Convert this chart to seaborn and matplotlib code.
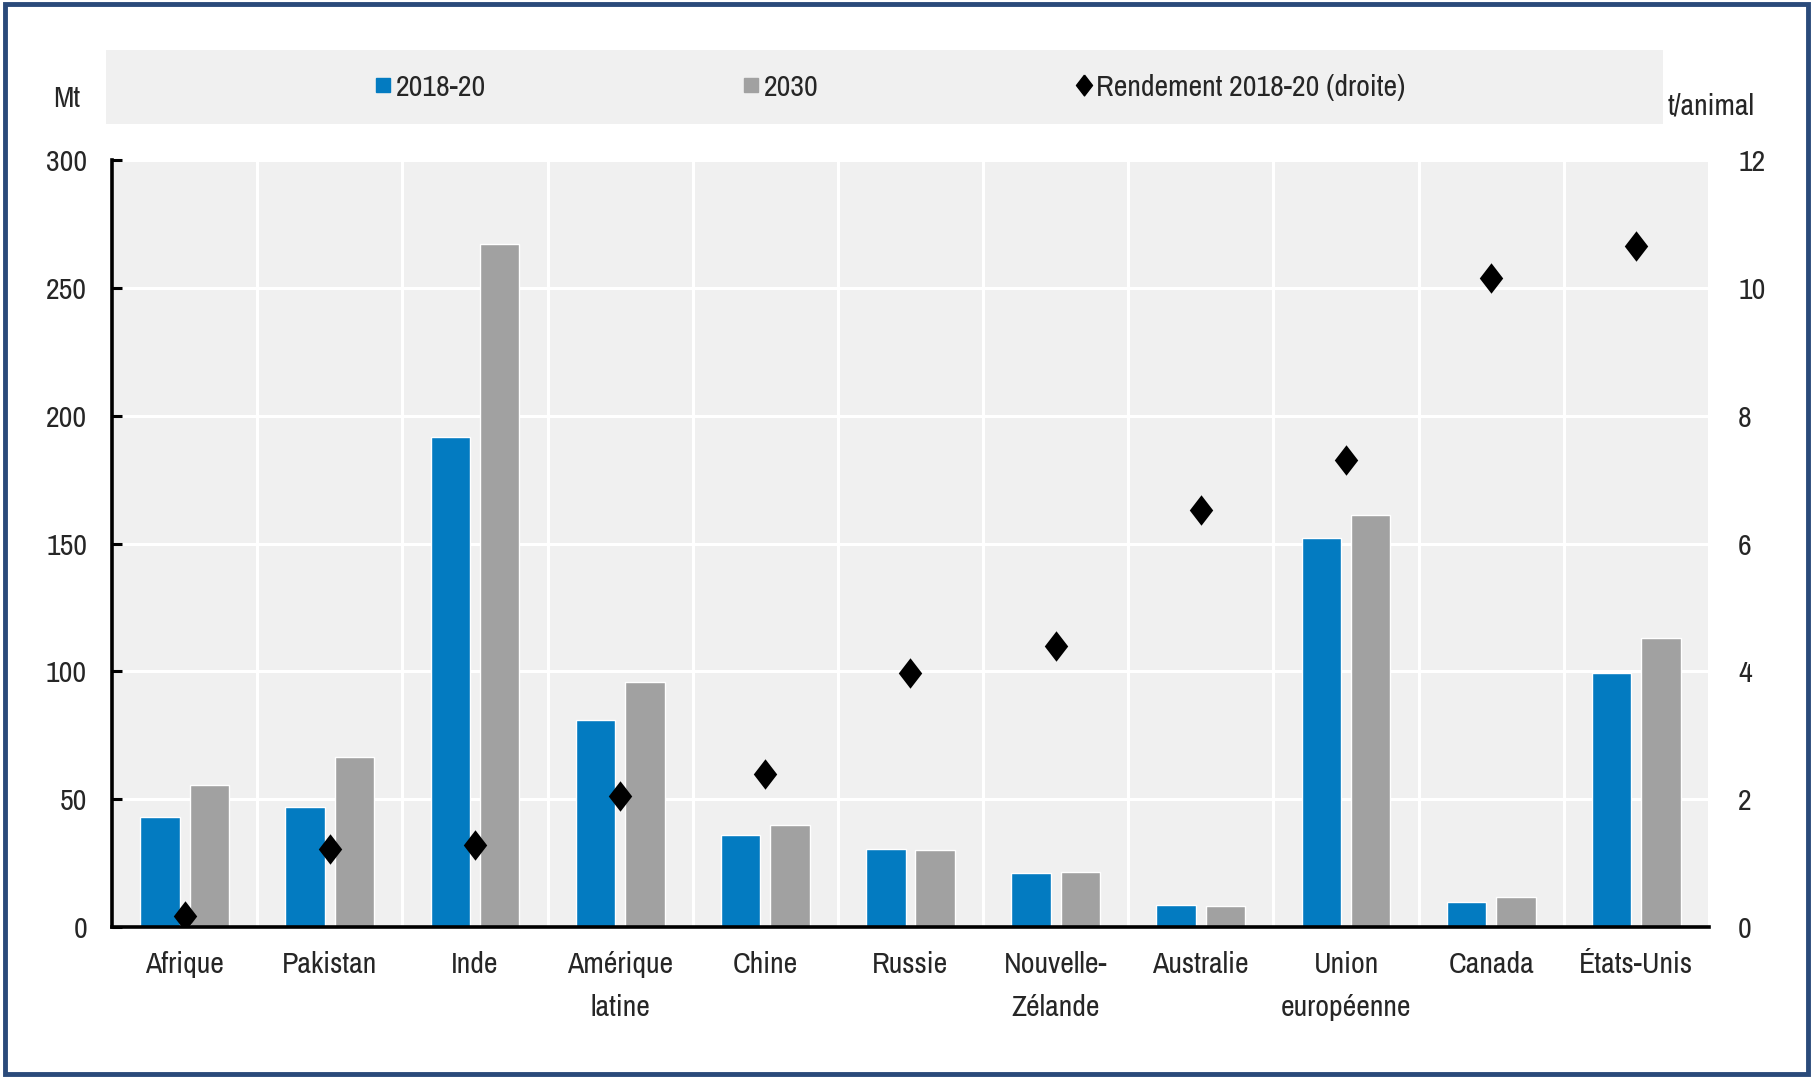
import pandas as pd
import numpy as np
import matplotlib
matplotlib.use("Agg")
import matplotlib.pyplot as plt
from matplotlib.patches import Rectangle
from matplotlib.lines import Line2D
import seaborn as sns

# Données
regions = ["Afrique", "Pakistan", "Inde", "Amérique\nlatine", "Chine", "Russie",
           "Nouvelle-\nZélande", "Australie", "Union\neuropéenne", "Canada", "États-Unis"]
prod_2018_20 = [43, 47, 191.5, 81, 36, 30.5, 21, 8.6, 152, 10, 99.5]
prod_2030 = [55.5, 66.5, 267, 96, 40, 30.3, 21.6, 8.4, 161, 11.7, 113]
rendement = [0.18, 1.22, 1.29, 2.05, 2.4, 3.98, 4.4, 6.52, 7.3, 10.15, 10.66]

series_names = ["2018-20", "2030"]
left_ticks = [0, 50, 100, 150, 200, 250, 300]
right_ticks = [0, 2, 4, 6, 8, 10, 12]

BLUE = "#037bc1"
GREY = "#a1a1a1"
PANEL = "#f0f0f0"
FS = 21.5

sns.set_style("white")
# police étroite proche de l'Arial Narrow
plt.rcParams["font.family"] = ["Liberation Sans Narrow", "Archivo Narrow", "DejaVu Sans"]

df = pd.DataFrame({
    "region": regions * 2,
    "serie": [series_names[0]] * len(regions) + [series_names[1]] * len(regions),
    "valeur": prod_2018_20 + prod_2030,
})
df_rend = pd.DataFrame({"region": regions, "rendement": rendement})

fig = plt.figure(figsize=(18.13, 10.78), dpi=100)
ax = fig.add_axes([0.0618, 0.140, 0.8808, 0.7116])
ax.set_facecolor(PANEL)

sns.barplot(data=df, x="region", y="valeur", hue="serie", palette=[BLUE, GREY],
            width=0.68, gap=0.2, saturation=1, legend=False, ax=ax, zorder=3)

ax.set_xlim(-0.5, len(regions) - 0.5)
ax.set_ylim(0, 300)
ax.set_yticks(left_ticks)
ax.set_xlabel("")
ax.set_ylabel("")
for lab in ax.get_xticklabels():
    lab.set_linespacing(1.75)

# grille blanche
ax.set_xticks(np.arange(len(regions) + 1) - 0.5, minor=True)
ax.grid(True, axis="y", which="major", color="white", linewidth=2.2, zorder=1)
ax.grid(True, axis="x", which="minor", color="white", linewidth=2.2, zorder=1)
ax.set_axisbelow(True)

for s in ["top", "right"]:
    ax.spines[s].set_visible(False)
for s in ["left", "bottom"]:
    ax.spines[s].set_color("black")
    ax.spines[s].set_linewidth(2.6)
    ax.spines[s].set_zorder(5)

ax.tick_params(axis="x", which="major", length=0, pad=17, labelsize=FS)
ax.tick_params(axis="x", which="minor", direction="in", length=7, width=2.2, color="black")
ax.tick_params(axis="y", direction="in", length=7, width=2.2, color="black", pad=18, labelsize=FS)

# axe de droite : rendement
ax2 = ax.twinx()
diamond = [(0, 1), (0.77, 0), (0, -1), (-0.77, 0), (0, 1)]
sns.scatterplot(data=df_rend, x="region", y="rendement", marker=diamond, s=480,
                color="black", edgecolor="black", linewidth=0, ax=ax2, zorder=6, legend=False)
ax2.set_ylim(0, 12)
ax2.set_yticks(right_ticks)
ax2.set_ylabel("")
ax2.set_xlabel("")
for s in ax2.spines.values():
    s.set_visible(False)
ax2.tick_params(axis="y", length=0, pad=21, labelsize=FS)

# unités
fig.text(0.037, 0.909, "Mt", fontsize=FS, ha="center", va="center")
fig.text(0.920, 0.902, "t/animal", fontsize=FS, ha="left", va="center")

# légende sur bandeau gris
fig.patches.append(Rectangle((0.0585, 0.885), 0.8585, 0.069, transform=fig.transFigure,
                             facecolor=PANEL, edgecolor="none", zorder=0))
handles = [
    Line2D([], [], linestyle="none", marker="s", markersize=10.5, color=BLUE),
    Line2D([], [], linestyle="none", marker="s", markersize=10.5, color=GREY),
    Line2D([], [], linestyle="none", marker=diamond, markersize=15, color="black"),
]
labels = ["2018-20", "2030", "Rendement 2018-20 (droite)"]
fig.legend(handles, labels, loc="center", bbox_to_anchor=(0.491, 0.919), ncol=3,
           frameon=False, fontsize=FS, handlelength=0.55, handletextpad=0.15,
           columnspacing=8.6)

# cadre bleu foncé
fig.patches.append(Rectangle((0.003, 0.004), 0.994, 0.992, transform=fig.transFigure,
                             facecolor="none", edgecolor="#2a4a7a", linewidth=3.5, zorder=10))

fig.savefig("out.png", dpi=100)
